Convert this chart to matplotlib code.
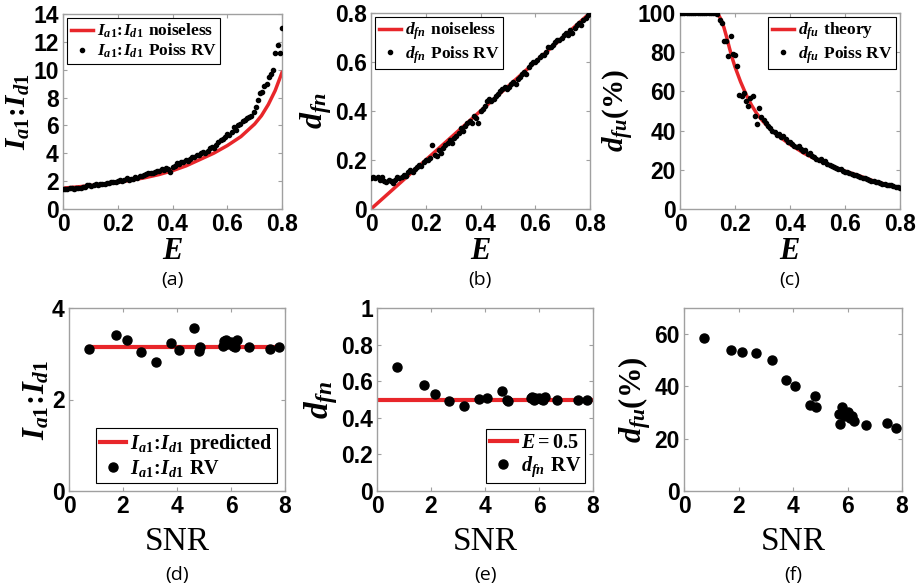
import numpy as np
import matplotlib
matplotlib.use("Agg")
import matplotlib.pyplot as plt

plt.rcParams['mathtext.fontset'] = 'custom'
plt.rcParams['mathtext.rm'] = 'Liberation Serif:bold'
plt.rcParams['mathtext.it'] = 'Liberation Serif:bold:italic'
plt.rcParams['mathtext.bf'] = 'Liberation Serif:bold'

# ---------------- data ----------------
E_dots = np.linspace(0, 0.8, 101)

# (a) I_a1:I_d1
E_theory_a = [0.0, 0.05, 0.1, 0.15, 0.2, 0.25, 0.3, 0.35, 0.4, 0.45, 0.5, 0.55,
              0.6, 0.65, 0.7, 0.725, 0.75, 0.775, 0.8]
ratio_theory = [1.5, 1.58, 1.68, 1.79, 1.92, 2.07, 2.25, 2.47, 2.75, 3.1, 3.55, 4.0,
                4.55, 5.2, 6.1, 6.7, 7.5, 8.5, 9.8]
ratio_dots = [1.45, 1.47, 1.46, 1.5, 1.48, 1.47, 1.5, 1.49, 1.52, 1.55, 1.6,
              1.7, 1.72, 1.68, 1.74, 1.76, 1.75, 1.78, 1.8, 1.82, 1.85,
              1.9, 1.92, 1.95, 1.97, 2.0, 2.05, 2.02, 2.08, 2.2, 2.1,
              2.15, 2.18, 2.3, 2.25, 2.4, 2.35, 2.45, 2.5, 2.55, 2.6,
              2.58, 2.68, 2.7, 2.75, 2.85, 2.8, 2.95, 2.9, 2.65, 3.05,
              3.1, 3.3, 3.25, 3.35, 3.4, 3.5, 3.45, 3.6, 3.7, 3.75,
              3.85, 3.9, 4.05, 4.1, 4.0, 4.2, 4.35, 4.45, 4.4, 4.6,
              4.8, 4.95, 5.0, 5.2, 5.4, 5.3, 5.5, 5.9, 5.7, 6.0,
              6.1, 6.3, 6.4, 6.5, 6.6, 6.7, 7.0, 7.3, 7.8, 8.3,
              8.4, 8.8, 9.0, 9.5, 9.7, 10.0, 11.2, 11.8, 11.2, 13.0]

# (b) d_fn
E_theory_b = [0.0, 0.8]
dfn_theory = [0.0, 0.8]
dfn_dots = [0.125, 0.13, 0.125, 0.13, 0.12, 0.13, 0.115, 0.11, 0.12, 0.115, 0.105,
            0.12, 0.13, 0.125, 0.13, 0.14, 0.135, 0.15, 0.16, 0.15, 0.165,
            0.17, 0.18, 0.175, 0.19, 0.2, 0.2, 0.21, 0.26, 0.22, 0.215,
            0.24, 0.23, 0.25, 0.26, 0.27, 0.28, 0.27, 0.29, 0.3, 0.31,
            0.33, 0.32, 0.34, 0.35, 0.36, 0.35, 0.38, 0.37, 0.35, 0.4,
            0.41, 0.42, 0.44, 0.45, 0.44, 0.45, 0.46, 0.47, 0.48, 0.49,
            0.5, 0.49, 0.5, 0.51, 0.52, 0.51, 0.53, 0.54, 0.55, 0.56,
            0.55, 0.58, 0.59, 0.6, 0.6, 0.61, 0.62, 0.63, 0.63, 0.64,
            0.66, 0.66, 0.67, 0.68, 0.69, 0.69, 0.7, 0.71, 0.72, 0.71,
            0.73, 0.72, 0.74, 0.75, 0.76, 0.75, 0.77, 0.78, 0.79, 0.8]

# (c) d_fu (%)
E_theory_c = [0.0, 0.133, 0.14, 0.15, 0.16, 0.17, 0.18, 0.19, 0.2, 0.22, 0.24, 0.26,
              0.28, 0.3, 0.33, 0.36, 0.4, 0.45, 0.5, 0.55, 0.6, 0.65, 0.7, 0.75, 0.8]
dfu_theory = [100, 100, 99, 96.5, 92.5, 87.5, 82, 77, 72.5, 65, 58.5, 53,
              48.5, 45, 40.5, 37, 33, 28.5, 25, 22, 19.3, 17, 14.5, 12.5, 10.5]
dfu_dots = [100] * 17 + [99.5, 96.5, 95, 85.5, 85.5, 78, 88.5, 79, 78.5, 73,
            58, 57.5, 59, 55, 52.5, 56.5, 57.5, 47.5, 43.5, 51.5, 47,
            45.5, 44, 42.5,
            41.5, 40, 39.5, 38, 38.5, 36.5, 37, 35.5, 34, 34,
            33, 32, 31.5, 32, 30.5, 29.5, 30, 28, 28.5, 27,
            26.5, 25.5, 25, 25.5, 24, 24.5, 23, 22.5, 22, 21.5,
            21, 20.5, 20.5, 19.5, 19, 19, 18.5, 18, 17.5, 17.5,
            17, 16.5, 16, 16, 15.5, 15, 14.5, 14.5, 14, 14,
            13.5, 13, 13, 12.5, 12, 12, 11.5, 11, 11, 10.5]

# bottom row: vs SNR
snr = [0.75, 1.73, 2.14, 2.65, 3.22, 3.76, 4.09, 4.62, 4.82, 4.86, 5.70,
       5.74, 5.80, 5.86, 6.00, 6.08, 6.16, 6.24, 6.67, 7.46, 7.78]
ratio_pred_x = [0.75, 7.78]
ratio_pred = [3.14, 3.14]
ratio_rv = [3.10, 3.42, 3.31, 3.03, 2.82, 3.23, 3.08, 3.56, 3.06, 3.14, 3.17,
            3.28, 3.30, 3.22, 3.25, 3.18, 3.14, 3.30, 3.14, 3.10, 3.14]
dfn_line_x = [0, 8]
dfn_line = [0.5, 0.5]
dfn_rv = [0.677, 0.577, 0.531, 0.493, 0.467, 0.504, 0.507, 0.544, 0.50, 0.49, 0.51,
          0.516, 0.498, 0.507, 0.51, 0.502, 0.498, 0.513, 0.495, 0.495, 0.498]
dfu_rv = [58.4, 54.0, 53.1, 52.7, 50.2, 42.3, 40.0, 32.8, 36.2, 32.2, 29.5,
          25.8, 32.2, 28.6, 30.1, 28.0, 28.5, 26.7, 25.1, 26.1, 24.2]

# ---------------- figure ----------------
W, H = 921, 588
fig = plt.figure(figsize=(W / 100, H / 100), dpi=100)
RED = '#e8262a'
SPINE = '#a0a0a0'


def make_ax(l, r, t, b):
    return fig.add_axes([l / W, 1 - b / H, (r - l) / W, (b - t) / H])


def style(ax, xt, xl, yt, yl, xlim, ylim):
    ax.set_xlim(*xlim)
    ax.set_ylim(*ylim)
    ax.set_xticks(xt)
    ax.set_xticklabels(xl)
    ax.set_yticks(yt)
    ax.set_yticklabels(yl)
    for s in ax.spines.values():
        s.set_color(SPINE)
        s.set_linewidth(1.0)
    ax.tick_params(direction='in', length=3, width=0.8, color=SPINE,
                   top=True, right=True, labelsize=16.5, pad=3)
    for lab in ax.get_xticklabels() + ax.get_yticklabels():
        lab.set_fontfamily('Liberation Sans')
        lab.set_fontweight('bold')


Ex = [0, 0.2, 0.4, 0.6, 0.8]
Exl = ['0', '0.2', '0.4', '0.6', '0.8']
LAB = 21

leg_kw = dict(frameon=True, fancybox=False, edgecolor='black', framealpha=1,
              handlelength=1.3, handletextpad=0.2, borderpad=0.2,
              labelspacing=0.1, borderaxespad=0.25)

# (a)
ax = make_ax(63, 282, 14, 209)
ax.plot(E_theory_a, ratio_theory, color=RED, lw=2.5, zorder=2,
        label=r'$I_{a1}\!:\!I_{d1}$ $\mathrm{noiseless}$')
ax.plot(E_dots, ratio_dots, 'o', color='black', ms=3, zorder=3,
        label=r'$I_{a1}\!:\!I_{d1}$ $\mathrm{Poiss\ RV}$')
style(ax, Ex, Exl, range(0, 15, 2), [str(v) for v in range(0, 15, 2)], (0, 0.8), (0, 14))
ax.set_xlabel(r'$E$', fontsize=LAB + 1, labelpad=0)
ax.set_ylabel(r'$I_{a1}\!:\!I_{d1}$', fontsize=LAB, labelpad=1)
lg = ax.legend(loc='upper left', fontsize=12.5, **leg_kw)
lg.get_frame().set_linewidth(0.8)

# (b)
ax = make_ax(371, 590, 13, 209)
ax.plot(E_theory_b, dfn_theory, color=RED, lw=2.5, zorder=2,
        label=r'$d_{fn}$ $\mathrm{noiseless}$')
ax.plot(E_dots, dfn_dots, 'o', color='black', ms=3, zorder=3,
        label=r'$d_{fn}$ $\mathrm{Poiss\ RV}$')
style(ax, Ex, Exl, Ex, Exl, (0, 0.8), (0, 0.8))
ax.set_xlabel(r'$E$', fontsize=LAB + 1, labelpad=0)
ax.set_ylabel(r'$d_{fn}$', fontsize=LAB + 2, labelpad=1)
lg = ax.legend(loc='upper left', fontsize=12.5, **leg_kw)
lg.get_frame().set_linewidth(0.8)

# (c)
ax = make_ax(680, 900, 13, 209)
ax.plot(E_theory_c, dfu_theory, color=RED, lw=2.5, zorder=2,
        label=r'$d_{fu}$ $\mathrm{theory}$')
ax.plot(E_dots, dfu_dots, 'o', color='black', ms=3, zorder=3,
        label=r'$d_{fu}$ $\mathrm{Poiss\ RV}$')
style(ax, Ex, Exl, range(0, 101, 20), [str(v) for v in range(0, 101, 20)], (0, 0.8), (0, 100))
ax.set_xlabel(r'$E$', fontsize=LAB + 1, labelpad=0)
ax.set_ylabel(r'$d_{fu}(\%)$', fontsize=LAB, labelpad=1)
lg = ax.legend(loc='upper right', fontsize=12.5, **leg_kw)
lg.get_frame().set_linewidth(0.8)

Sx = [0, 2, 4, 6, 8]
Sxl = ['0', '2', '4', '6', '8']
leg_kw2 = dict(leg_kw)
leg_kw2.update(borderaxespad=0.4)

# (d)
ax = make_ax(69, 285, 308, 491)
ax.plot(ratio_pred_x, ratio_pred, color=RED, lw=3, zorder=2,
        label=r'$I_{a1}\!:\!I_{d1}$ $\mathrm{predicted}$')
ax.plot(snr, ratio_rv, 'o', color='black', ms=6.5, zorder=3,
        label=r'$I_{a1}\!:\!I_{d1}$ $\mathrm{RV}$')
style(ax, Sx, Sxl, [0, 2, 4], ['0', '2', '4'], (0, 8), (0, 4))
ax.set_xlabel('SNR', fontsize=24, family='Liberation Serif', labelpad=6)
ax.set_ylabel(r'$I_{a1}\!:\!I_{d1}$', fontsize=LAB + 1, labelpad=1)
lg = ax.legend(loc='lower right', fontsize=14.5, **leg_kw2)
lg.get_frame().set_linewidth(0.8)

# (e)
ax = make_ax(377, 593, 308, 491)
ax.plot(dfn_line_x, dfn_line, color=RED, lw=3, zorder=2,
        label=r'$E=0.5$')
ax.plot(snr, dfn_rv, 'o', color='black', ms=6.5, zorder=3,
        label=r'$d_{fn}$ $\mathrm{RV}$')
style(ax, Sx, Sxl, [0, 0.2, 0.4, 0.6, 0.8, 1.0], ['0', '0.2', '0.4', '0.6', '0.8', '1'],
      (0, 8), (0, 1))
ax.set_xlabel('SNR', fontsize=24, family='Liberation Serif', labelpad=6)
ax.set_ylabel(r'$d_{fn}$', fontsize=LAB + 3, labelpad=1)
lg = ax.legend(loc='lower right', fontsize=14.5, **leg_kw2)
lg.get_frame().set_linewidth(0.8)

# (f)
ax = make_ax(684, 902, 308, 491)
ax.plot(snr, dfu_rv, 'o', color='black', ms=6.5, zorder=3)
style(ax, Sx, Sxl, [0, 20, 40, 60], ['0', '20', '40', '60'], (0, 8), (0, 70))
ax.set_xlabel('SNR', fontsize=24, family='Liberation Serif', labelpad=6)
ax.set_ylabel(r'$d_{fu}(\%)$', fontsize=LAB + 1, labelpad=1)

# panel letters
for lab, (xc, yc) in zip(['(a)', '(b)', '(c)', '(d)', '(e)', '(f)'],
                         [(172, 280), (480, 280), (790, 280),
                          (177, 575), (485, 575), (793, 575)]):
    fig.text(xc / W, 1 - yc / H, lab, ha='center', va='center', fontsize=14,
             family='Open Sans')

fig.savefig('out.png', dpi=100)
